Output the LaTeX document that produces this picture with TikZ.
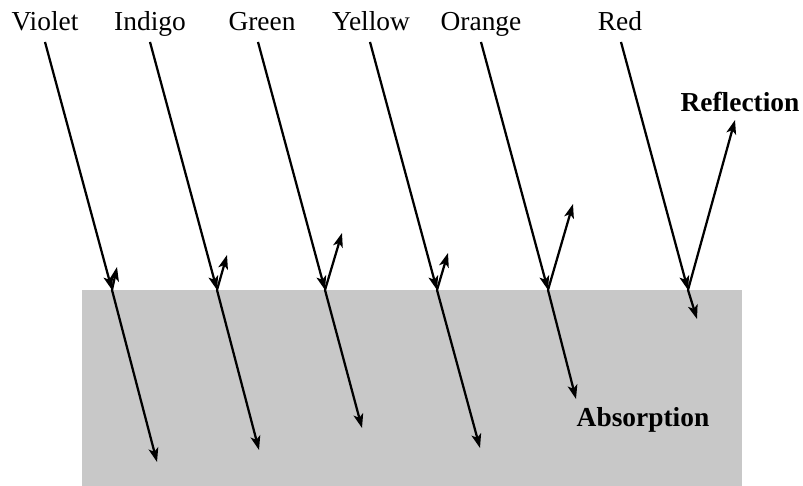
\documentclass[tikz,border=0pt]{standalone}
\usepackage{fontspec}
\setmainfont{Liberation Serif}
\usetikzlibrary{arrows.meta}
\definecolor{slab}{HTML}{C8C8C8}
\tikzset{
  ray/.style={line width=1.6pt,-{Stealth[length=10pt,width=7pt,inset=2.5pt]}},
  colour label/.style={anchor=base,font=\fontsize{19.5}{23}\selectfont},
  effect label/.style={anchor=base,font=\fontsize{19.5}{23}\selectfont\bfseries}
}
\begin{document}
\begin{tikzpicture}[x=0.025cm,y=0.025cm]
\useasboundingbox (0,0) rectangle (803,486);
% the absorbing slab
\fill[slab] (82,0) rectangle (742,196);
% colour names
\node[colour label] (violet) at (45,455) {Violet};
\node[colour label] (indigo) at (150,455) {Indigo};
\node[colour label] (green) at (262,455) {Green};
\node[colour label] (yellow) at (371,455) {Yellow};
\node[colour label] (orange) at (481,455) {Orange};
\node[colour label] (red) at (620,455) {Red};
\node[effect label] (reflection) at (740,374) {Reflection};
\node[effect label] (absorption) at (643,59) {Absorption};
% start, hit, transmitted and reflected points
\coordinate (vS) at (45,444);  \coordinate (vH) at (112,196);
\coordinate (vT) at (157,24);  \coordinate (vR) at (117,219);
\coordinate (iS) at (150,444); \coordinate (iH) at (217,196);
\coordinate (iT) at (259,36);  \coordinate (iR) at (227,231);
\coordinate (gS) at (258,444); \coordinate (gH) at (325,196);
\coordinate (gT) at (362,58);  \coordinate (gR) at (342,253);
\coordinate (yS) at (370,444); \coordinate (yH) at (437,196);
\coordinate (yT) at (480,38);  \coordinate (yR) at (448,233);
\coordinate (oS) at (481,444); \coordinate (oH) at (548,196);
\coordinate (oT) at (576,87);  \coordinate (oR) at (573,282);
\coordinate (rS) at (621,444); \coordinate (rH) at (688,196);
\coordinate (rT) at (697,167); \coordinate (rR) at (735,366);
% rays
\draw[ray] (vS) -- (vH); \draw[ray] (vH) -- (vT); \draw[ray] (vH) -- (vR);
\draw[ray] (iS) -- (iH); \draw[ray] (iH) -- (iT); \draw[ray] (iH) -- (iR);
\draw[ray] (gS) -- (gH); \draw[ray] (gH) -- (gT); \draw[ray] (gH) -- (gR);
\draw[ray] (yS) -- (yH); \draw[ray] (yH) -- (yT); \draw[ray] (yH) -- (yR);
\draw[ray] (oS) -- (oH); \draw[ray] (oH) -- (oT); \draw[ray] (oH) -- (oR);
\draw[ray] (rS) -- (rH); \draw[ray] (rH) -- (rT); \draw[ray] (rH) -- (rR);
\end{tikzpicture}
\end{document}
